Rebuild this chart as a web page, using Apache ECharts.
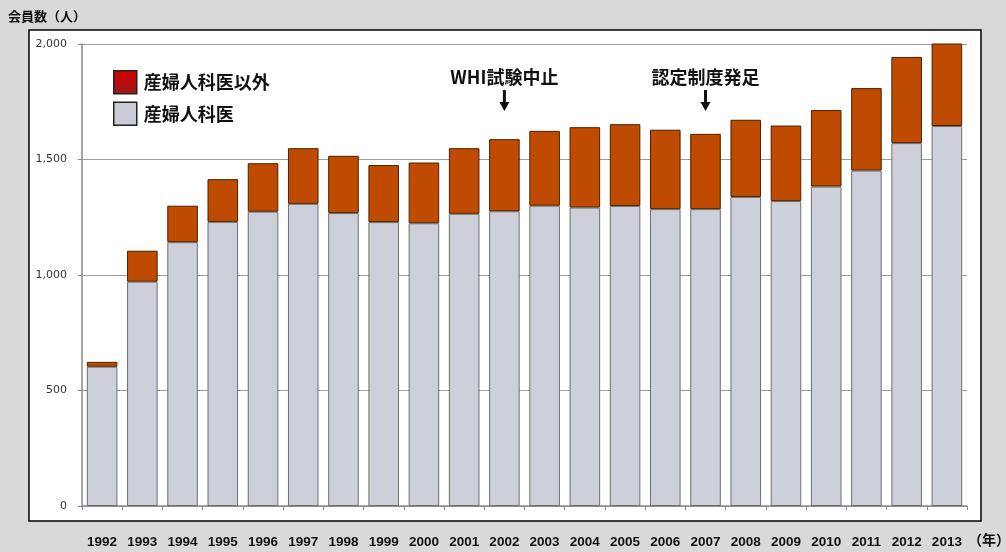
<!DOCTYPE html>
<html>
<head>
<meta charset="utf-8">
<script src="https://cdn.jsdelivr.net/npm/echarts@6/dist/echarts.min.js"></script>
<style>
  html, body { margin: 0; padding: 0; background: #d9d9d9; }
  #chart { width: 1006px; height: 552px; }
</style>
</head>
<body>
<div id="chart"></div>
<script>
// Membership by year (persons)
const years = ['1992','1993','1994','1995','1996','1997','1998','1999','2000','2001','2002',
               '2003','2004','2005','2006','2007','2008','2009','2010','2011','2012','2013'];
// 産婦人科医
const obgynMembers = [603, 971, 1142, 1230, 1274, 1308, 1268, 1229, 1224, 1265, 1276,
                      1300, 1292, 1299, 1285, 1285, 1338, 1320, 1383, 1452, 1571, 1645];
// 産婦人科医以外
const otherMembers = [21, 134, 158, 185, 210, 241, 248, 247, 263, 284, 312,
                      324, 348, 354, 344, 326, 334, 327, 331, 357, 373, 359];
const yMin = 0, yMax = 2000, yStep = 500;
// Event notes placed above a given year
const events = [
  { year: '2002', text: 'WHI試験中止' },
  { year: '2007', text: '認定制度発足' }
];

const seriesNames = ['産婦人科医以外', '産婦人科医'];
const jpFont = '"Noto Sans CJK JP", "Noto Sans", sans-serif';

const chart = echarts.init(document.getElementById('chart'), null, { renderer: 'canvas' });

const option = {
  animation: false,
  backgroundColor: 'transparent',
  grid: { left: 82, right: 39, top: 44, bottom: 46, containLabel: false },
  legend: {
    orient: 'vertical',
    left: 108, top: 65,
    itemWidth: 23, itemHeight: 23, itemGap: 7,
    icon: 'rect',
    selectedMode: false,
    textStyle: { fontFamily: jpFont, fontWeight: 'bold', fontSize: 18, color: '#111', padding: [0, 0, 0, 2] },
    data: [
      { name: seriesNames[0], itemStyle: {
          color: new echarts.graphic.LinearGradient(0, 0, 0, 1, [
            { offset: 0, color: '#d40000' }, { offset: 1, color: '#9a1a1a' }]),
          borderColor: '#222', borderWidth: 1.5 } },
      { name: seriesNames[1], itemStyle: { color: '#c9ccd6', borderColor: '#222', borderWidth: 1.5 } }
    ]
  },
  xAxis: {
    type: 'category',
    data: years,
    boundaryGap: true,
    axisLine: { lineStyle: { color: '#8a8a8a', width: 1.5 } },
    axisTick: { show: true, length: 4, lineStyle: { color: '#8a8a8a' } },
    axisLabel: {
      margin: 29, interval: 0,
      fontFamily: '"Liberation Sans", Arial, sans-serif',
      fontWeight: 'bold', fontSize: 13.5, color: '#111'
    }
  },
  yAxis: {
    type: 'value',
    min: yMin, max: yMax, interval: yStep,
    axisLine: { show: true, lineStyle: { color: '#8a8a8a', width: 1.5 } },
    axisTick: { show: true, length: 4, lineStyle: { color: '#8a8a8a' } },
    splitLine: { show: true, lineStyle: { color: '#9c9c9c', width: 1.2 } },
    axisLabel: {
      margin: 15,
      fontFamily: '"DejaVu Sans", sans-serif',
      fontSize: 11, color: '#333',
      formatter: v => v.toLocaleString('en-US')
    }
  },
  series: [
    {
      name: seriesNames[1], type: 'bar', stack: 'members',
      data: obgynMembers, barCategoryGap: '24%',
      itemStyle: { color: '#cdd0da', borderColor: '#6f6f6f', borderWidth: 1 },
      z: 3
    },
    {
      name: seriesNames[0], type: 'bar', stack: 'members',
      data: otherMembers, barCategoryGap: '24%',
      itemStyle: { color: '#bf4b00', borderColor: '#4a2000', borderWidth: 1 },
      z: 3
    }
  ],
  graphic: [
    // white chart panel
    { type: 'rect', z: -100, silent: true,
      shape: { x: 29, y: 30, width: 952, height: 491 },
      style: { fill: '#ffffff', stroke: '#000000', lineWidth: 1.5 } },
    { type: 'text', left: 8, top: 10,
      style: { text: '会員数（人）', font: 'bold 13px ' + jpFont, fill: '#111' } },
    { type: 'text', left: 968, top: 533,
      style: { text: '（年）', font: 'bold 14px ' + jpFont, fill: '#111' } }
  ]
};

chart.setOption(option);

// event notes with downward arrows, positioned from the category axis
const notes = [];
events.forEach(ev => {
  const cx = chart.convertToPixel({ xAxisIndex: 0 }, ev.year);
  notes.push(
    { type: 'text', x: cx, y: 77,
      style: { text: ev.text, font: 'bold 18px ' + jpFont, fill: '#111',
               align: 'center', verticalAlign: 'middle' } },
    { type: 'rect', shape: { x: cx - 1.5, y: 90, width: 3, height: 13 },
      style: { fill: '#111' } },
    { type: 'polygon', shape: { points: [[cx - 5, 102], [cx + 5, 102], [cx, 111]] },
      style: { fill: '#111' } }
  );
});
chart.setOption({ graphic: option.graphic.concat(notes) });
</script>
</body>
</html>
